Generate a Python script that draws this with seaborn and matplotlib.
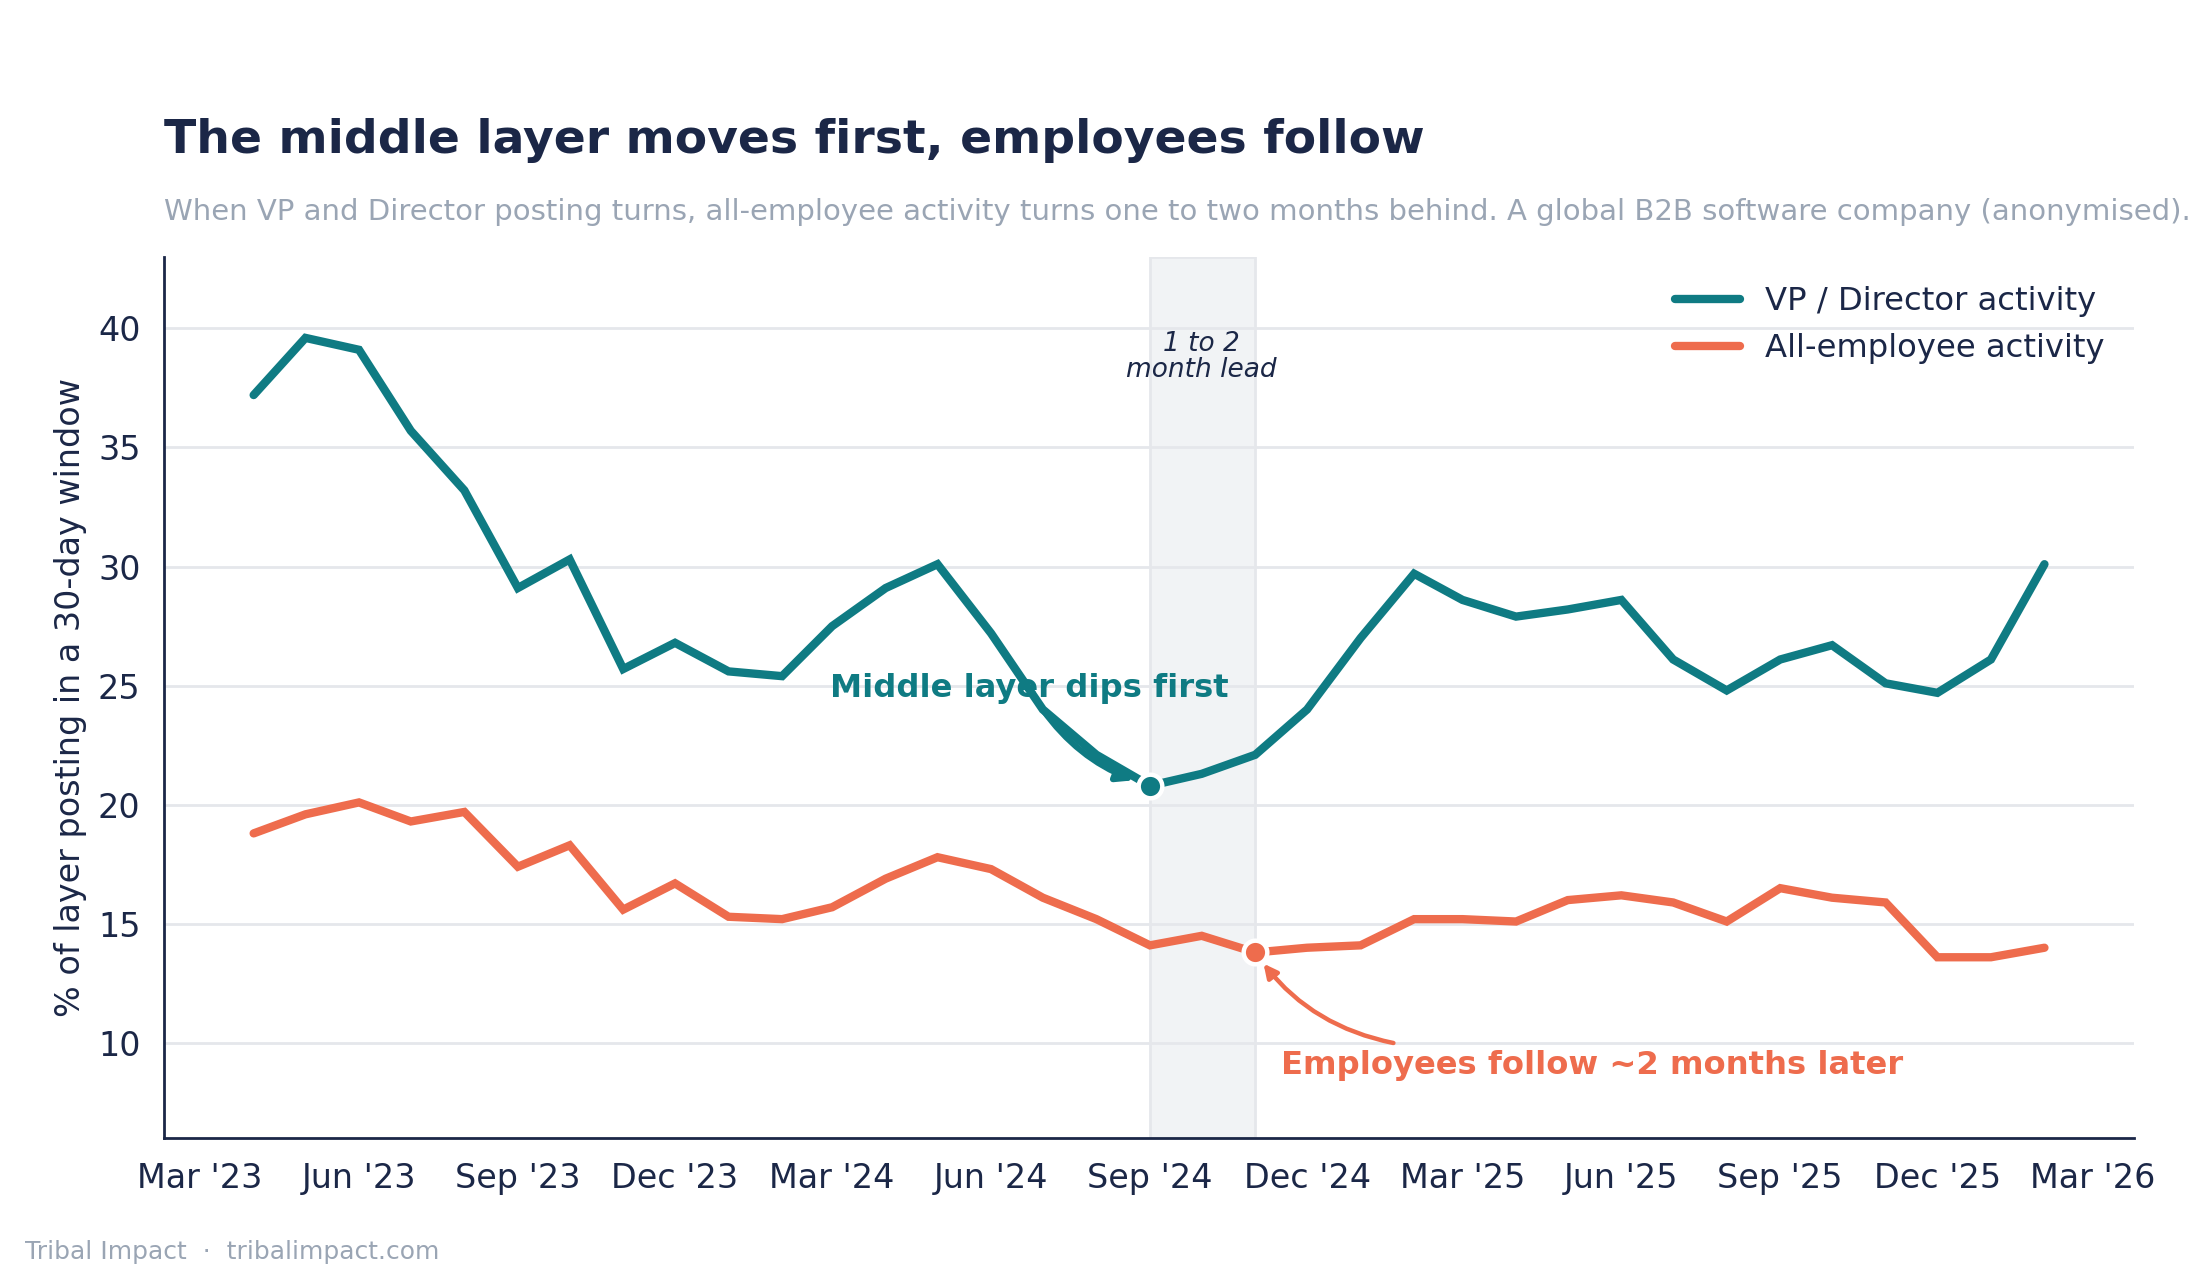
import matplotlib
matplotlib.use("Agg")
import matplotlib.pyplot as plt
import matplotlib.dates as mdates
import pandas as pd
import seaborn as sns

# monthly points, Apr 2023 - Feb 2026
months = pd.date_range("2023-04-01", "2026-02-01", freq="MS")
vp_director = [37.2, 39.6, 39.1, 35.7, 33.2, 29.1, 30.3, 25.7, 26.8, 25.6, 25.4, 27.5,
               29.1, 30.1, 27.2, 24.0, 22.1, 20.8, 21.3, 22.1, 24.0, 27.0, 29.7, 28.6,
               27.9, 28.2, 28.6, 26.1, 24.8, 26.1, 26.7, 25.1, 24.7, 26.1, 30.1]
all_employee = [18.8, 19.6, 20.1, 19.3, 19.7, 17.4, 18.3, 15.6, 16.7, 15.3, 15.2, 15.7,
                16.9, 17.8, 17.3, 16.1, 15.2, 14.1, 14.5, 13.8, 14.0, 14.1, 15.2, 15.2,
                15.1, 16.0, 16.2, 15.9, 15.1, 16.5, 16.1, 15.9, 13.6, 13.6, 14.0]
series_names = ["VP / Director activity", "All-employee activity"]

lead_start = pd.Timestamp("2024-09-01")
lead_end = pd.Timestamp("2024-11-01")

TEAL = "#0f7b83"
CORAL = "#ee6c4d"
NAVY = "#1b2747"
GREY = "#9aa5b4"
GRID = "#e5e7eb"

df = pd.DataFrame({
    "month": list(months) * 2,
    "value": vp_director + all_employee,
    "series": [series_names[0]] * len(months) + [series_names[1]] * len(months),
})

sns.set_style("white")
plt.rcParams["font.family"] = ["DejaVu Sans"]

fig = plt.figure(figsize=(11, 6.4), dpi=200)
ax = fig.add_axes([0.0746, 0.1107, 0.8954, 0.6886])

ax.axvspan(lead_start, lead_end, facecolor="#f1f3f5", edgecolor=GRID, lw=1, zorder=0)

sns.lineplot(data=df, x="month", y="value", hue="series",
             palette={series_names[0]: TEAL, series_names[1]: CORAL},
             linewidth=3, ax=ax, zorder=3)
for ln in ax.lines:
    ln.set_solid_capstyle("round")
    ln.set_solid_joinstyle("miter")

# highlight points
vp_low = vp_director[list(months).index(lead_start)]
emp_low = all_employee[list(months).index(lead_end)]
ax.plot([lead_start], [vp_low], marker="o", ms=8.5, mfc=TEAL, mec="white", mew=1.6, zorder=6)
ax.plot([lead_end], [emp_low], marker="o", ms=8.5, mfc=CORAL, mec="white", mew=1.6, zorder=6)

ax.text(pd.Timestamp("2024-10-01"), 38.8, "1 to 2\nmonth lead", ha="center", va="center",
        fontsize=9.5, style="italic", color=NAVY, linespacing=1.0, zorder=4)

ax.annotate("Middle layer dips first", xy=(lead_start, vp_low),
            xytext=(pd.Timestamp("2024-06-23"), 24.9), ha="center", va="center",
            fontsize=11.6, fontweight="bold", color=TEAL, zorder=7,
            arrowprops=dict(arrowstyle="-|>", color=TEAL, lw=2.2, mutation_scale=12,
                            connectionstyle="arc3,rad=0.2", shrinkA=0, shrinkB=6))

ax.annotate("", xy=(lead_end, emp_low), xytext=(pd.Timestamp("2025-01-20"), 10.0),
            arrowprops=dict(arrowstyle="-|>", color=CORAL, lw=1.6, mutation_scale=10,
                            connectionstyle="arc3,rad=-0.2", shrinkA=0, shrinkB=5))
ax.text(pd.Timestamp("2025-05-15"), 9.05, "Employees follow ~2 months later",
        ha="center", va="center", fontsize=11.6, fontweight="bold", color=CORAL)

ax.set_ylim(6, 43)
ax.set_yticks([10, 15, 20, 25, 30, 35, 40])
ax.xaxis.set_major_locator(mdates.MonthLocator(bymonth=[3, 6, 9, 12]))
ax.xaxis.set_major_formatter(mdates.DateFormatter("%b '%y"))
ax.grid(axis="y", color=GRID, lw=1)
ax.grid(axis="x", visible=False)
ax.set_axisbelow(True)

for s in ["top", "right"]:
    ax.spines[s].set_visible(False)
for s in ["left", "bottom"]:
    ax.spines[s].set_color(NAVY)
    ax.spines[s].set_linewidth(1)
ax.tick_params(axis="both", colors=NAVY, labelsize=12, length=5, width=1, labelcolor=NAVY)
ax.set_xlabel("")
ax.set_ylabel("% of layer posting in a 30-day window", fontsize=12, color=NAVY)

handles, labels = ax.get_legend_handles_labels()
for h in handles:
    h.set_linewidth(3)
    h.set_solid_capstyle("round")
ax.legend(handles, labels, loc="upper right", frameon=False, fontsize=11.6,
          handlelength=2.0, labelcolor=NAVY)

fig.text(0.0746, 0.890, "The middle layer moves first, employees follow",
         fontsize=17, fontweight="bold", color=NAVY, ha="left", va="center")
fig.text(0.0746, 0.834,
         "When VP and Director posting turns, all-employee activity turns one to two months behind. "
         "A global B2B software company (anonymised).",
         fontsize=10.5, color=GREY, ha="left", va="center")
fig.text(0.0115, 0.022, "Tribal Impact  \u00b7  tribalimpact.com", fontsize=9, color=GREY,
         ha="left", va="center")

fig.savefig("out.png", dpi=200)
